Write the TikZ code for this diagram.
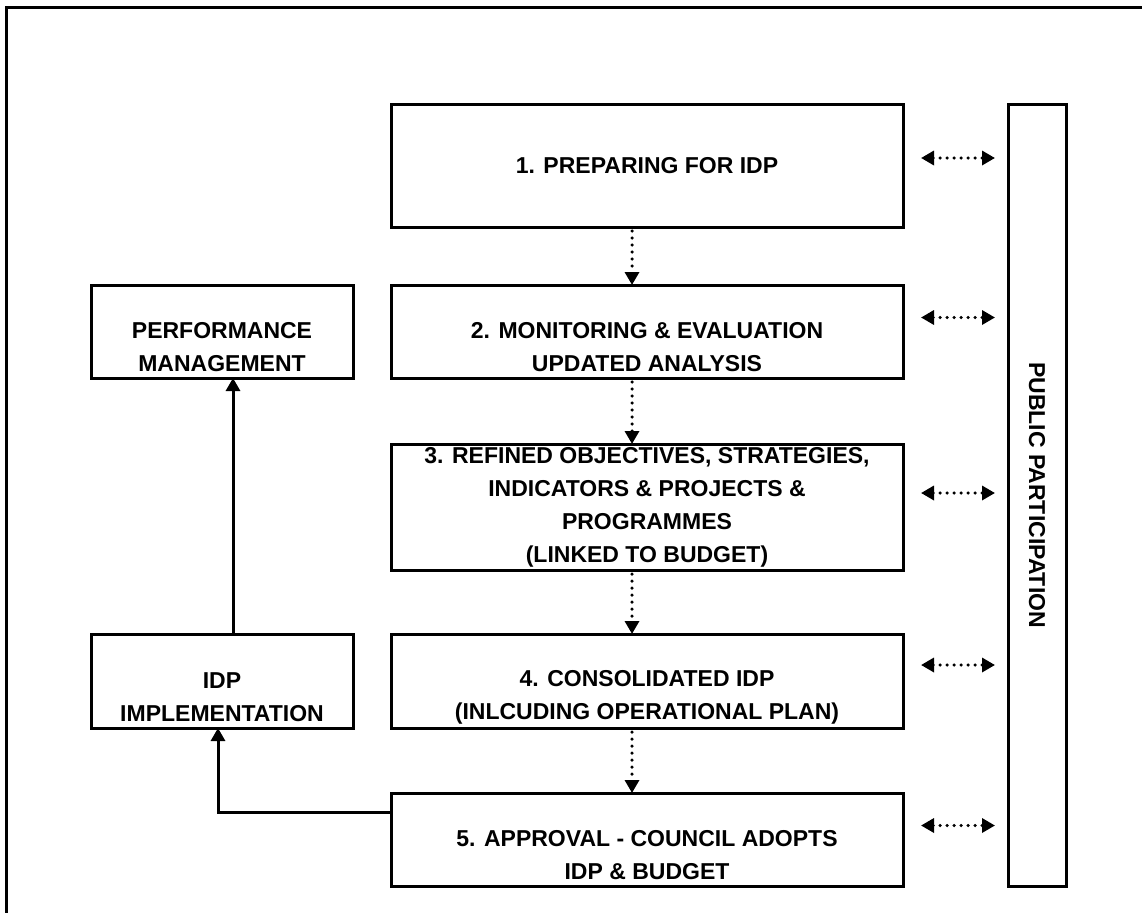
\documentclass[tikz,border=0pt]{standalone}
\usepackage{fontspec}
\setmainfont{Liberation Sans}
\usetikzlibrary{arrows.meta,calc,positioning}
\newdimen\hdim
\newdimen\wdim
\newdimen\odim
\hdim=93pt
\wdim=512pt
\odim=38pt
\newcommand\topgap{\rule{0pt}{48pt}}
\tikzstyle{stage}=[
  draw=black,
  font={\fontsize{23pt}{33pt}\selectfont\bfseries},
  align=center,
  inner sep=0pt,
  outer sep=0pt,
  minimum height=\hdim,
  minimum width=\wdim,
  rectangle,
  line width=3pt,
]
\tikzstyle{side}=[
  stage,
  minimum width=262pt,
]
\tikzstyle{flow}=[
  draw=black,
  line width=3.5pt,
  line cap=round,
  dash pattern=on 0pt off 7pt,
]
\tikzstyle{feed}=[
  draw=black,
  line width=3pt,
]
\tikzset{
  x=1pt,
  y=-1pt,
  >={Triangle[length=13pt,width=14pt]},
}
\begin{document}
\begin{tikzpicture}
  \useasboundingbox (0,0) rectangle (1142,913);
  \draw [feed] (1142,7.5) -- (6,7.5) -- (6,913);
  \node (prep) [stage, minimum height=123pt] at (647,165.5) {1. PREPARING FOR IDP};
  \node (monitor) [stage, below=58pt of prep] {\topgap 2. MONITORING \& EVALUATION\\UPDATED ANALYSIS};
  \node (refine) [stage, minimum height=126pt, below=66pt of monitor] {3. REFINED OBJECTIVES, STRATEGIES,\\INDICATORS \& PROJECTS \&\\PROGRAMMES\\(LINKED TO BUDGET)};
  \node (consol) [stage, minimum height=94pt, below=64pt of refine] {\topgap 4. CONSOLIDATED IDP\\(INLCUDING OPERATIONAL PLAN)};
  \node (approve) [stage, below=65pt of consol] {\topgap 5. APPROVAL - COUNCIL ADOPTS\\IDP \& BUDGET};
  \node (perform) [side, left=\odim of monitor] {\topgap PERFORMANCE\\MANAGEMENT};
  \node (implement) [side, minimum height=94pt, left=\odim of consol] {\topgap IDP\\IMPLEMENTATION};
  \node (public) [stage, minimum width=58pt, minimum height=782pt, anchor=north west] at ([xshift=105pt]prep.north east) {\rotatebox{-90}{PUBLIC PARTICIPATION}};
  \draw [flow, ->, shorten <=4pt] ([xshift=-15pt]prep.south) -- ([xshift=-15pt]monitor.north);
  \draw [flow, ->, shorten <=4pt] ([xshift=-15pt]monitor.south) -- ([xshift=-15pt]refine.north);
  \draw [flow, ->, shorten <=4pt] ([xshift=-15pt]refine.south) -- ([xshift=-15pt]consol.north);
  \draw [flow, ->, shorten <=4pt] ([xshift=-15pt]consol.south) -- ([xshift=-15pt]approve.north);
  \draw [flow, <->] ($(prep.east)+(18,-7.5)$) -- ($(public.west |- prep.east)+(-13,-7.5)$);
  \draw [flow, <->] ($(monitor.east)+(18,-14)$) -- ($(public.west |- monitor.east)+(-13,-14)$);
  \draw [flow, <->] ($(refine.east)+(18,-14)$) -- ($(public.west |- refine.east)+(-13,-14)$);
  \draw [flow, <->] ($(consol.east)+(18,-16)$) -- ($(public.west |- consol.east)+(-13,-16)$);
  \draw [flow, <->] ($(approve.east)+(18,-14)$) -- ($(public.west |- approve.east)+(-13,-14)$);
  \draw [feed, ->] ([yshift=27pt]approve.west) -| ([xshift=-4pt]implement.south);
  \draw [feed, ->] ([xshift=11pt]implement.north) -- ([xshift=11pt]perform.south);
\end{tikzpicture}
\end{document}
